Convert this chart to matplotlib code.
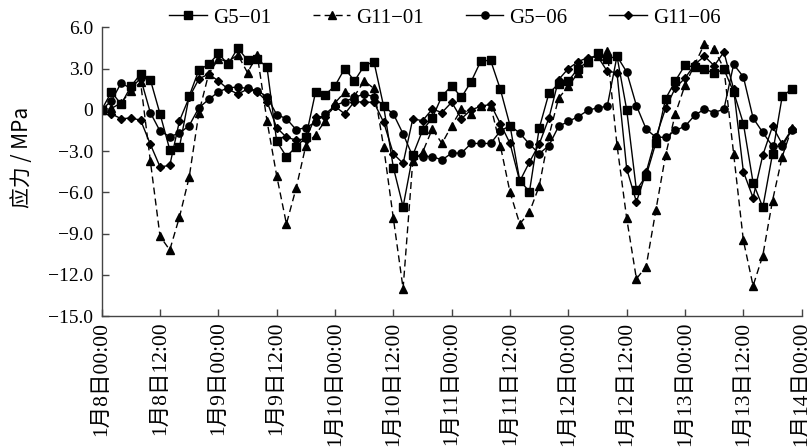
import matplotlib
matplotlib.use("Agg")
import matplotlib.pyplot as plt
import numpy as np

# time in hours from 1月8日00:00, sampled every 2 hours
hours = list(range(0, 144, 2))

g5_01 = [0, 1.3, 0.4, 1.7, 2.6, 2.2, -0.3, -2.9, -2.7, 1.0,
         2.9, 3.3, 4.1, 3.3, 4.5, 3.6, 3.7, 3.1, -2.3, -3.4,
         -2.7, -2.0, 1.3, 1.1, 1.75, 3.0, 2.1, 3.2, 3.5, 0.25,
         -4.2, -7.05, -3.3, -1.5, -0.6, 1.0, 1.75, 0.9, 2.05, 3.55,
         3.6, 1.5, -1.15, -5.15, -5.95, -1.35, 1.2, 1.9, 2.1, 3.0,
         3.5, 4.1, 3.7, 3.9, 0.0, -5.85, -4.8, -2.4, 0.8, 2.1,
         3.25, 3.1, 2.95, 2.65, 2.95, 1.3, -1.0, -5.3, -7.1, -3.2,
         1.0, 1.5]

g11_01 = [0, 0.1, 0.5, 1.4, 2.0, -3.7, -9.2, -10.2, -7.8, -4.9,
          -0.2, 2.6, 3.7, 3.5, 4.0, 2.7, 4.0, -0.8, -4.8, -8.3,
          -5.7, -2.6, -1.8, -0.8, 0.5, 1.3, 1.0, 2.1, 1.55, -2.7,
          -7.9, -13.0, -3.7, -3.1, -1.4, -2.45, -1.15, 0.05, -0.3, 0.25,
          0.3, -2.6, -6.0, -8.3, -7.45, -5.55, -1.9, 0.85, 1.7, 2.7,
          3.5, 3.9, 4.3, -2.55, -7.9, -12.3, -11.4, -7.3, -3.3, -0.3,
          1.8, 3.3, 4.8, 4.4, 3.0, -3.2, -9.5, -12.8, -10.6, -6.6,
          -3.4, -1.3]

g5_06 = [0, 0.65, 1.95, 1.55, 2.3, -0.2, -1.55, -1.95, -1.7, -1.15,
         0.15, 0.75, 1.3, 1.6, 1.65, 1.55, 1.4, 0.95, -0.35, -0.65,
         -1.45, -1.3, -0.9, -0.3, 0.3, 0.6, 0.9, 1.15, 0.95, 0.25,
         -0.3, -1.75, -3.4, -3.4, -3.4, -3.65, -3.15, -3.15, -2.45, -2.45,
         -2.45, -1.55, -1.15, -1.7, -2.5, -3.2, -2.6, -1.2, -0.85, -0.5,
         -0.05, 0.15, 0.25, 3.9, 2.75, 0.3, -1.4, -2.0, -2.0, -1.5,
         -1.2, -0.4, 0.05, -0.2, 0.05, 3.3, 2.4, -0.6, -1.65, -2.65,
         -2.65, -1.45]

g11_06 = [0, -0.3, -0.65, -0.6, -0.75, -2.5, -4.15, -4.05, -0.8, 0.9,
          2.25, 2.6, 2.1, 1.5, 1.15, 1.5, 1.3, 0.6, -1.3, -2.0,
          -2.2, -2.1, -0.5, -0.5, 0.25, -0.3, 0.6, 0.55, 0.55, -0.9,
          -3.2, -3.9, -0.65, -0.8, 0.05, -0.2, 0.55, -0.65, 0.0, 0.25,
          0.4, -1.0, -2.45, -5.2, -3.8, -2.5, -0.6, 2.2, 3.0, 3.5,
          3.8, 3.9, 2.8, 2.7, -4.3, -6.7, -4.55, -2.0, 0.1, 1.6,
          2.3, 3.3, 3.9, 3.2, 4.2, 1.5, -4.5, -6.4, -3.3, -1.2,
          -2.5, -1.4]

tick_hours = list(range(0, 145, 12))
tick_labels = ["1月8日00:00", "1月8日12:00", "1月9日00:00", "1月9日12:00",
               "1月10日00:00", "1月10日12:00", "1月11日00:00", "1月11日12:00",
               "1月12日00:00", "1月12日12:00", "1月13日00:00", "1月13日12:00",
               "1月14日00:00"]
y_ticks = [6, 3, 0, -3, -6, -9, -12, -15]
y_labels = ["6.0", "3.0", "0", "\u22123.0", "\u22126.0", "\u22129.0", "\u221212.0", "\u221215.0"]

fam = ["Liberation Serif", "Noto Sans CJK SC", "DejaVu Sans"]
plt.rcParams["font.family"] = fam

fig = plt.figure(figsize=(8.07, 4.48), dpi=100)
ax = fig.add_axes([101.7 / 807, 1 - 316 / 448, 700 / 807, (316 - 27.3) / 448])

lw = 1.0
ax.plot(hours, g5_01, color="black", lw=lw, marker="s", ms=5.2, label="G5\u221201")
ax.plot(hours, g11_01, color="black", lw=lw, ls=(0, (5, 3)), marker="^", ms=5.2, label="G11\u221201")
ax.plot(hours, g5_06, color="black", lw=lw, marker="o", ms=5.2, label="G5\u221206")
ax.plot(hours, g11_06, color="black", lw=lw, marker="D", ms=3.6, label="G11\u221206")

ax.set_xlim(0, 144)
ax.set_ylim(-15, 6)
ax.set_xticks(tick_hours)
ax.set_xticklabels(tick_labels, rotation=90, fontsize=15.5,
                   family=["Liberation Serif", "Noto Sans CJK SC"])
ax.set_yticks(y_ticks)
ax.set_yticklabels(y_labels, fontsize=14)
ax.tick_params(direction="in", length=5, color="#444444", width=1)
ax.tick_params(axis="y", pad=6)
ax.tick_params(axis="x", pad=4)
for s in ["top", "right"]:
    ax.spines[s].set_visible(False)
for s in ["left", "bottom"]:
    ax.spines[s].set_color("#444444")
    ax.spines[s].set_linewidth(1)

ax.set_ylabel("应力 / MPa", fontsize=15, family=["Noto Sans CJK SC", "Liberation Serif"])
ax.yaxis.set_label_coords(-0.098, 0.55)

leg = fig.legend(loc="center", bbox_to_anchor=(445 / 807, 1 - 18 / 448), ncol=4,
                 frameon=False, fontsize=15, handlelength=1.8, columnspacing=2.0,
                 handletextpad=0.3)

fig.savefig("out.png", dpi=100)
